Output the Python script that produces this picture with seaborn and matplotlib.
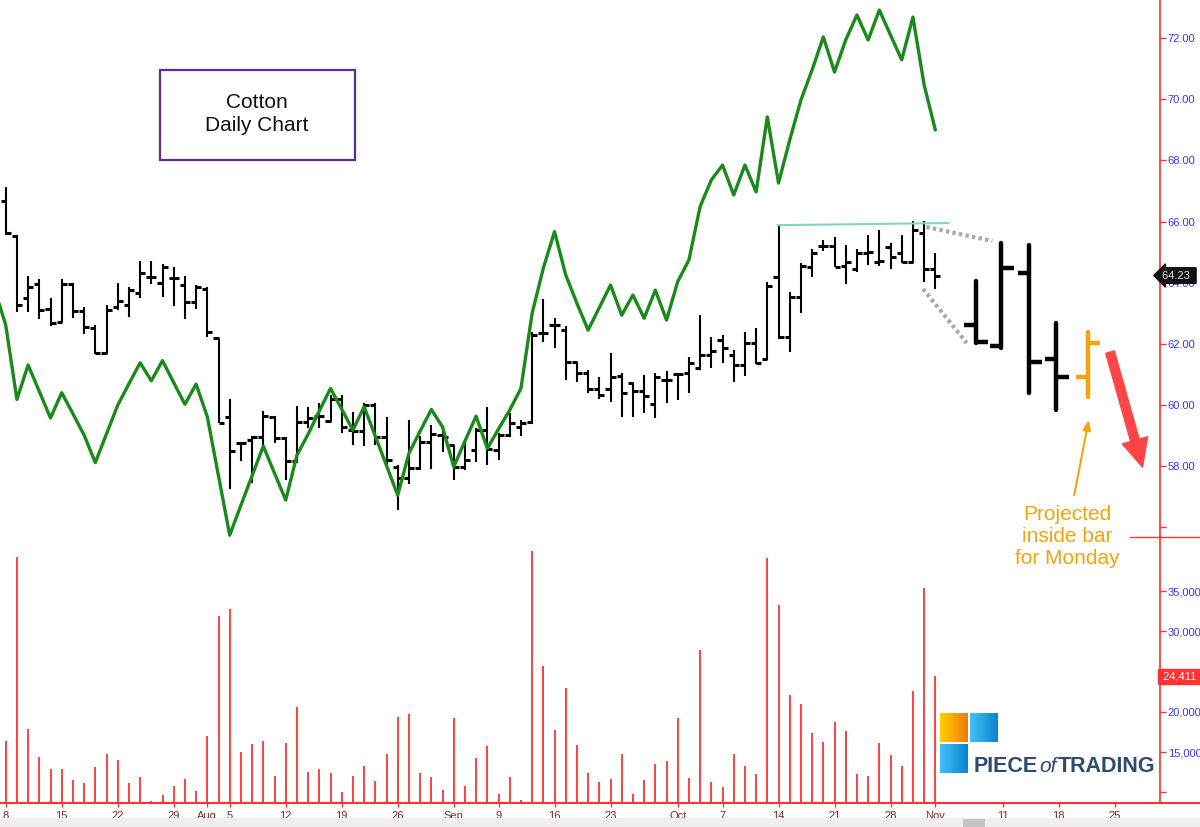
import numpy as np
import pandas as pd
import matplotlib
matplotlib.use("Agg")
import matplotlib.pyplot as plt
from matplotlib.patches import Rectangle
from matplotlib.lines import Line2D
import seaborn as sns

# trading calendar (Jul 8 - Nov 29 2019, exchange holidays removed)
holidays = ['2019-09-02', '2019-11-28']
calendar = pd.bdate_range('2019-07-08', '2019-11-29')
calendar = calendar[~calendar.isin(pd.to_datetime(holidays))]

# daily cotton bars, Jul 8 .. Nov 1
opens = [66.67, 65.52, 63.48, 63.95, 63.13, 62.71, 63.95, 63.08, 62.50, 61.70,
         63.21, 63.26, 63.65, 64.19, 63.97, 64.14, 63.92, 63.36, 63.78, 62.17,
         59.60, 58.75, 58.84, 58.94, 59.60, 58.91, 58.16, 59.42, 59.62, 59.46,
         60.17, 59.16, 59.13, 59.98, 58.94, 57.96, 57.61, 57.93, 58.78, 59.00,
         58.67, 57.96, 58.51, 59.16, 58.51, 59.00, 59.25, 59.44, 62.35, 62.61,
         62.44, 61.38, 61.04, 60.51, 60.50, 60.93, 60.71, 60.45, 60.02, 60.80,
         61.00, 61.02, 61.19, 61.62, 62.11, 61.62, 61.30, 62.03, 61.51, 64.19,
         62.20, 63.51, 64.52, 65.20, 65.20, 64.54, 64.46, 64.98, 64.68, 65.15,
         64.98, 64.68, 65.61, 64.46]
highs = [67.14, 65.56, 64.21, 64.12, 63.48, 64.12, 63.97, 63.21, 62.61, 63.26,
         63.99, 63.84, 64.71, 64.71, 64.61, 64.50, 64.21, 63.92, 63.84, 62.19,
         60.17, 58.78, 58.98, 59.80, 59.62, 58.94, 59.95, 59.91, 60.04, 60.31,
         60.31, 59.76, 60.04, 60.06, 59.60, 58.02, 59.51, 58.97, 59.33, 59.25,
         58.67, 58.78, 59.22, 59.91, 59.06, 59.71, 59.51, 62.39, 63.45, 62.83,
         62.57, 61.40, 61.13, 60.91, 61.70, 61.02, 60.71, 60.97, 61.02, 61.11,
         61.02, 61.55, 62.93, 62.20, 62.28, 61.79, 62.39, 62.50, 64.03, 65.89,
         63.70, 64.65, 65.09, 65.39, 65.50, 65.23, 65.09, 65.56, 65.72, 65.31,
         65.56, 66.03, 66.03, 64.96]
lows = [65.56, 63.04, 63.04, 62.80, 62.57, 62.71, 62.83, 62.31, 61.66, 61.66,
        63.10, 62.88, 63.48, 63.95, 63.53, 63.23, 62.80, 63.12, 62.22, 59.38,
        57.22, 58.16, 57.42, 58.64, 58.75, 57.52, 58.10, 59.22, 59.22, 59.44,
        59.06, 58.67, 58.64, 58.67, 57.96, 56.56, 57.41, 57.85, 57.90, 58.45,
        57.52, 57.85, 58.13, 58.02, 58.20, 58.94, 58.97, 59.35, 62.06, 61.87,
        60.80, 60.75, 60.37, 60.17, 60.09, 59.60, 59.58, 59.71, 59.55, 60.04,
        60.15, 60.37, 61.13, 61.19, 61.37, 60.75, 60.93, 61.33, 61.46, 62.15,
        61.73, 63.01, 64.17, 65.04, 64.52, 63.95, 64.36, 64.57, 64.54, 64.46,
        64.65, 64.65, 64.03, 63.78]
closes = [65.61, 63.27, 63.84, 63.10, 62.66, 63.95, 63.08, 62.55, 61.70, 63.10,
          63.39, 63.75, 64.30, 64.19, 64.52, 64.14, 63.36, 63.84, 62.37, 59.38,
          58.49, 58.75, 58.94, 59.62, 58.91, 58.16, 59.42, 59.55, 59.62, 60.17,
          59.25, 59.14, 59.98, 58.94, 58.20, 57.61, 57.93, 58.78, 59.03, 58.94,
          57.96, 58.20, 59.16, 58.56, 59.00, 59.38, 59.40, 62.28, 62.33, 62.61,
          61.38, 61.04, 60.51, 60.31, 60.91, 60.39, 60.45, 60.28, 60.91, 60.80,
          61.00, 61.35, 61.62, 61.76, 61.84, 61.30, 62.03, 61.37, 63.89, 62.20,
          63.53, 64.54, 64.98, 65.20, 64.52, 64.68, 64.98, 65.01, 64.72, 64.83,
          64.68, 65.72, 64.43, 64.23]
volume = [16400, 39300, 17900, 14400, 12900, 12900, 11500, 11100, 13100, 14750,
          14000, 11100, 11850, 8850, 9650, 10770, 11640, 10100, 16950, 31950,
          32800, 15000, 16030, 16370, 11980, 16160, 20600, 12550, 12890, 12420,
          9990, 11980, 13260, 11390, 14750, 19390, 19730, 12420, 11850, 10240,
          19190, 10810, 14290, 15780, 9780, 11850, 9030, 40000, 25700, 17770,
          22920, 15910, 12420, 11270, 11640, 14750, 9780, 11520, 13470, 13840,
          19190, 11730, 27650, 11230, 10650, 14750, 13260, 12230, 39090, 33250,
          22090, 20930, 17330, 16240, 18690, 17650, 12230, 11980, 16160, 14630,
          13260, 22550, 35440, 24411]

# green overlay line, one point per session starting Jul 5
green = [63.79, 62.61, 60.17, 61.30, 60.43, 59.56, 60.39, 59.70, 59.00, 58.10,
         59.04, 59.98, 60.68, 61.37, 60.78, 61.44, 60.72, 60.01, 60.67, 59.60,
         57.66, 55.72, 56.70, 57.67, 58.64, 57.75, 56.87, 58.34, 59.03, 59.79,
         60.53, 59.85, 59.16, 59.93, 58.96, 58.00, 57.03, 58.40, 59.13, 59.84,
         59.27, 57.96, 58.80, 59.62, 58.56, 59.20, 59.82, 60.53, 62.99, 64.47,
         65.67, 64.25, 63.32, 62.44, 63.18, 63.92, 62.93, 63.59, 62.83, 63.75,
         62.77, 64.03, 64.74, 66.49, 67.36, 67.85, 66.87, 67.85, 66.97, 69.43,
         67.26, 68.67, 69.98, 70.97, 72.05, 70.90, 71.95, 72.77, 71.95, 72.93,
         72.11, 71.30, 72.70, 70.48, 69.00]

# projected bars drawn on the right (session slot, o/h/l/c)
proj_pos = [86.6, 88.9, 91.4, 93.8, 96.6]
proj_open = [62.61, 61.92, 64.31, 61.49, 60.90]
proj_high = [64.05, 65.30, 65.23, 62.67, 62.38]
proj_low = [62.02, 61.85, 60.38, 59.82, 60.25]
proj_close = [62.05, 64.48, 61.39, 60.90, 62.02]

# annotation lines
resist_x, resist_y = [68.9, 84.2], [65.88, 65.95]
dot_up_x, dot_up_y = [82.2, 88.1], [65.82, 65.36]
dot_dn_x, dot_dn_y = [81.9, 85.8], [63.79, 62.02]

tick_dates = ['2019-07-08', '2019-07-15', '2019-07-22', '2019-07-29', '2019-08-01',
              '2019-08-05', '2019-08-12', '2019-08-19', '2019-08-26', '2019-09-03',
              '2019-09-09', '2019-09-16', '2019-09-23', '2019-10-01', '2019-10-07',
              '2019-10-14', '2019-10-21', '2019-10-28', '2019-11-01', '2019-11-11',
              '2019-11-18', '2019-11-25']

df = pd.DataFrame({'open': opens, 'high': highs, 'low': lows, 'close': closes, 'volume': volume})
df['date'] = calendar[:len(df)]
df['pos'] = np.arange(len(df))

sns.set_theme(style='white')
plt.rcParams['font.family'] = ['Liberation Sans', 'DejaVu Sans']

RED = '#ff3333'
ORANGE = '#f4a40c'
W = 1200.0
H = 827.0

fig = plt.figure(figsize=(12, 8.27), dpi=100)
ax = fig.add_axes([0, 1 - 537 / H, 1160 / W, 537 / H])
ax2 = fig.add_axes([0, 1 - 803 / H, 1160 / W, 266 / H])

xmin, xmax = -0.51, 103.06

# price bars
tw = 0.45
ax.vlines(df['pos'], df['low'], df['high'], color='black', lw=1.5)
ax.hlines(df['open'], df['pos'] - tw, df['pos'], color='black', lw=2.2)
ax.hlines(df['close'], df['pos'], df['pos'] + tw, color='black', lw=2.2)

# green line
green_pos = np.arange(-1, len(green) - 1)
sns.lineplot(x=green_pos, y=green, ax=ax, color='#1a8a1a', lw=2.4, legend=False)

# projected bars
for k in range(len(proj_pos)):
    c = ORANGE if k == len(proj_pos) - 1 else 'black'
    x = proj_pos[k]
    ax.vlines(x, proj_low[k], proj_high[k], color=c, lw=3.2, capstyle='round')
    ax.hlines(proj_open[k], x - 1.0, x, color=c, lw=3.2)
    ax.hlines(proj_close[k], x, x + 1.1, color=c, lw=3.2)

ax.plot(resist_x, resist_y, color='#7fd6c6', lw=1.5)
ax.plot(dot_up_x, dot_up_y, color='#a8a8a8', lw=3, ls=(0, (0.8, 0.8)))
ax.plot(dot_dn_x, dot_dn_y, color='#a8a8a8', lw=3, ls=(0, (0.8, 0.8)))

ax.annotate('', xy=(101.5, 57.95), xytext=(98.6, 61.72),
            arrowprops=dict(arrowstyle='simple,head_width=0.95,head_length=1.0,tail_width=0.32',
                            color='#ff4545', mutation_scale=20, shrinkA=0, shrinkB=0))
ax.annotate('', xy=(96.7, 59.5), xytext=(95.4, 57.03),
            arrowprops=dict(arrowstyle='-|>,head_width=0.2,head_length=0.5',
                            color=ORANGE, lw=1.5, shrinkA=0, shrinkB=0))

ax.set_xlim(xmin, xmax)
ax.set_ylim(55.66, 73.26)
ax.yaxis.tick_right()
yt = np.arange(56, 73, 2)
ax.set_yticks(yt)
ax.set_yticklabels(['' if v == 56 else f'{v:.2f}' for v in yt])
ax.tick_params(axis='y', colors=RED, labelcolor='#3535ff', length=4, width=1,
               labelsize=8, pad=1.5, direction='out')
ax.set_xticks([])
for s in ['top', 'left', 'bottom']:
    ax.spines[s].set_visible(False)
ax.spines['right'].set_color(RED)
ax.set_xlabel('')
ax.set_ylabel('')

ax.text(1.002, 64.23, '64.23 ', transform=ax.get_yaxis_transform(), color='#e0e0e0',
        fontsize=8, va='center', ha='left', zorder=10, clip_on=False,
        bbox=dict(boxstyle='larrow,pad=0.25', fc='#111111', ec='#111111'))

# volume
ax2.vlines(df['pos'], 0, df['volume'], color=RED, lw=1.3)
ax2.set_xlim(xmin, xmax)
ax2.set_ylim(8657, 41742)
ax2.yaxis.tick_right()
vt = np.arange(10000, 35001, 5000)
ax2.set_yticks(vt)
# 10,000 carries no label, 25,000 sits under the last-value flag
ax2.set_yticklabels(['' if v in (10000, 25000) else f'{v:,}' for v in vt])
ax2.tick_params(axis='y', colors=RED, labelcolor='#3535ff', length=4, width=1,
                labelsize=8, pad=1.5, direction='out')
for s in ['top', 'left']:
    ax2.spines[s].set_visible(False)
ax2.spines['right'].set_color(RED)
ax2.spines['bottom'].set_color(RED)
ax2.spines['bottom'].set_linewidth(1.5)

pos_of = {d: i for i, d in enumerate(calendar)}
tpos, tlab, mpos = [], [], []
for d in pd.to_datetime(tick_dates):
    p = pos_of[d]
    tpos.append(p)
    if p > 0 and calendar[p - 1].month != d.month:
        tlab.append(d.strftime('%b'))
        mpos.append(p)
    else:
        tlab.append(str(d.day))
ax2.set_xticks(tpos)
ax2.set_xticklabels(tlab)
ax2.set_xticks(mpos, minor=True)
ax2.tick_params(axis='x', which='major', colors=RED, labelcolor='#7b2a2a', length=3,
                width=1, labelsize=8, pad=3, bottom=True)
ax2.tick_params(axis='x', which='minor', colors=RED, length=7, width=1, bottom=True)

ax2.text(1.0, 24411, ' 24,411 ', transform=ax2.get_yaxis_transform(), color='white',
         fontsize=8, va='center', ha='left', zorder=10, clip_on=False,
         bbox=dict(boxstyle='square,pad=0.2', fc=RED, ec=RED))

# figure decorations
fig.add_artist(Line2D([1130 / W, 1], [1 - 537 / H] * 2, color=RED, lw=1))
fig.add_artist(Line2D([1160 / W, 1], [1 - 803 / H] * 2, color=RED, lw=1.5))
fig.add_artist(Rectangle((0, 0), 1, 1 - 818 / H, color='#efefef', lw=0))
fig.add_artist(Rectangle((963 / W, 0), 22 / W, 1 - 819 / H, color='#c4c4c4', lw=0))

fig.add_artist(Rectangle((160 / W, 1 - 160 / H), 195 / W, 90 / H, fill=False,
                         ec='#5b2d8e', lw=1.6))
fig.text(257 / W, 1 - 114 / H, 'Cotton\nDaily Chart', ha='center', va='center',
         fontsize=15, linespacing=1.25, color='#111111')

fig.text(1067 / W, 1 - 536 / H, 'Projected\ninside bar\nfor Monday', ha='center',
         va='center', fontsize=15, linespacing=1.2, color=ORANGE)

# logo
sq = [(940, 713, ['#ffd000', '#f07a10']), (970, 713, ['#43c0f2', '#0a84d2']),
      (940, 744, ['#43c0f2', '#0a84d2'])]
for x0, y0, cols in sq:
    lax = fig.add_axes([x0 / W, 1 - (y0 + 29) / H, 28 / W, 29 / H])
    cmap = matplotlib.colors.LinearSegmentedColormap.from_list('g', cols)
    lax.imshow(np.tile(np.linspace(0, 1, 50), (10, 1)), cmap=cmap, aspect='auto')
    lax.axis('off')

r = fig.canvas.get_renderer()
logo_col = '#2e4b6e'
xcur = 974 / W
for txt, kw in [('PIECE', dict(fontweight='bold', fontsize=15.5)),
                ('of', dict(fontstyle='italic', fontsize=15)),
                ('TRADING', dict(fontweight='bold', fontsize=15.5))]:
    t = fig.text(xcur, 1 - 772 / H, txt, color=logo_col, va='baseline', ha='left', **kw)
    bb = t.get_window_extent(renderer=r)
    xcur += bb.width / W + 1 / W

fig.savefig('out.png', dpi=100)
